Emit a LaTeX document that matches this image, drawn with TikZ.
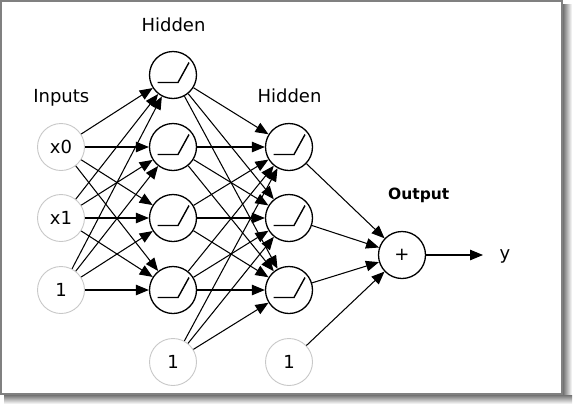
\documentclass[tikz,border=0pt]{standalone}
\usepackage{fontspec}
\setmainfont{DejaVu Sans}
\usetikzlibrary{arrows.meta}
\definecolor{framegray}{HTML}{808080}
\definecolor{lightcirc}{HTML}{C8C8C8}
\tikzset{
  incirc/.style={circle, draw=lightcirc, line width=0.9pt, minimum size=47pt, inner sep=0pt, font=\fontsize{18}{20}\selectfont},
  hidcirc/.style={circle, draw=black, line width=1.3pt, minimum size=47pt, inner sep=0pt,
    path picture={\draw[line width=1.4pt] ([shift={(-15.5pt,-7.5pt)}]path picture bounding box.center) -- ++(20.5pt,0pt) -- ++(11pt,20pt);}},
  outcirc/.style={circle, draw=black, line width=1.3pt, minimum size=47pt, inner sep=0pt, font=\fontsize{18}{20}\selectfont},
  lbl/.style={anchor=base, inner sep=0pt, font=\fontsize{18}{20}\selectfont},
  conn/.style={line width=1.05pt, -{Triangle[length=13pt,width=10.5pt]}},
}
\begin{document}
\begin{tikzpicture}[x=1pt,y=-1pt]
\useasboundingbox (0,0) rectangle (573,405);
% shadow
\shade[left color=black!55, right color=white] (563,4) rectangle (572,404);
\shade[top color=black!55, bottom color=white] (4,395) rectangle (572,404);
\fill[white] (1,1) rectangle (562,394);
\draw[framegray, line width=2pt] (1,1) rectangle (562,394);
% labels
\node[lbl] (lh1) at (173.5,31) {Hidden};
\node[lbl] (lin) at (61.3,102) {Inputs};
\node[lbl] (lh2) at (289.5,102) {Hidden};
\node[lbl, font=\fontsize{15.5}{18}\selectfont\bfseries] (lout) at (418.8,199) {Output};
\node[lbl] (ly) at (505,259) {y};
% nodes
\node[incirc] (i0) at (61,147) {x0};
\node[incirc] (i1) at (61,218) {x1};
\node[incirc] (i2) at (61,290) {1};
\node[hidcirc] (h1) at (173,75) {};
\node[hidcirc] (h2) at (173,147) {};
\node[hidcirc] (h3) at (173,218) {};
\node[hidcirc] (h4) at (173,290) {};
\node[hidcirc] (g1) at (289,147) {};
\node[hidcirc] (g2) at (289,218) {};
\node[hidcirc] (g3) at (289,290) {};
\node[incirc] (b1) at (173,362) {1};
\node[incirc] (b2) at (289,362) {1};
\node[outcirc] (o) at (402,255) {+};
\coordinate (yend) at (483,255);
% connectors
\foreach \s in {i0,i1,i2}{
  \foreach \t in {h1,h2,h3,h4}{
    \draw[conn] (\s) -- (\t);
  }
}
\foreach \s in {h1,h2,h3,h4,b1}{
  \foreach \t in {g1,g2,g3}{
    \draw[conn] (\s) -- (\t);
  }
}
\foreach \s in {g1,g2,g3,b2}{
  \draw[conn] (\s) -- (o);
}
\draw[conn] (o) -- (yend);
\end{tikzpicture}
\end{document}
